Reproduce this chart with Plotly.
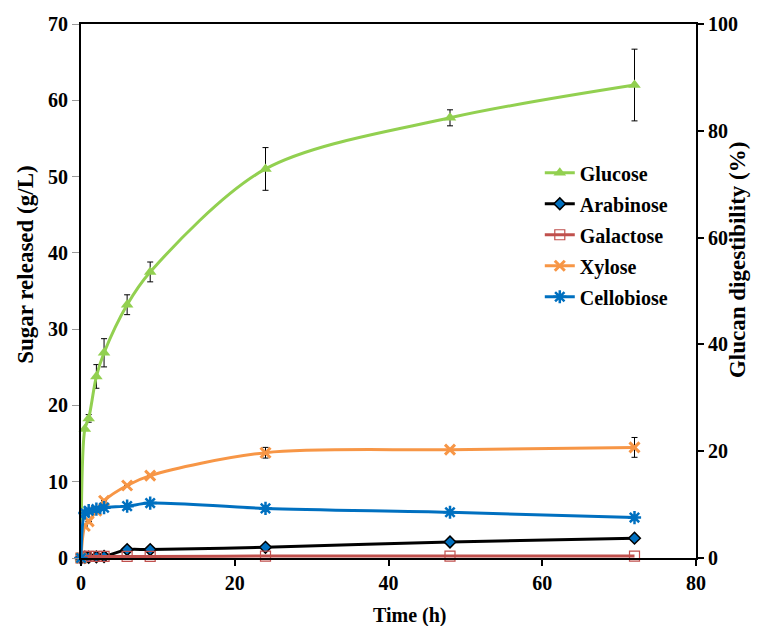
import plotly.graph_objects as go

time_h = [0, 0.5, 1, 2, 3, 6, 9, 24, 48, 72]
glucose = [0, 16.9, 18.3, 23.8, 26.9, 33.2, 37.5, 51.0, 57.7, 62.0]
glucose_err = [0, 0, 0.5, 1.55, 1.85, 1.3, 1.3, 2.8, 1.05, 4.7]
arabinose = [0, 0.1, 0.1, 0.15, 0.2, 1.1, 1.1, 1.4, 2.1, 2.6]
galactose = [0, 0.2, 0.2, 0.2, 0.2, 0.2, 0.2, 0.25, 0.25, 0.25]
xylose = [0, 4.2, 4.8, 6.2, 7.5, 9.5, 10.8, 13.8, 14.2, 14.5]
xylose_err = [0, 0, 0, 0, 0, 0, 0, 0.7, 0, 1.3]
cellobiose = [0, 5.9, 6.2, 6.4, 6.6, 6.8, 7.2, 6.5, 6.0, 5.3]

FONT = "Liberation Serif, Times New Roman, serif"

fig = go.Figure()

def add(name, y, color, symbol, msize, mcolor, mline_color, mline_w, err=None, lw=3):
    kw = {}
    if err is not None:
        kw["error_y"] = dict(type="data", array=err, visible=True, color="black", thickness=1, width=3)
    fig.add_trace(go.Scatter(
        x=time_h, y=y, name=name, mode="lines+markers",
        line=dict(color=color, width=lw, shape="spline", smoothing=0.9),
        marker=dict(symbol=symbol, size=msize, color=mcolor,
                    line=dict(color=mline_color, width=mline_w)),
        cliponaxis=False, legendgroup=name, **kw))

add("Glucose", glucose, "#92D050", "triangle-up", 11, "#92D050", "#92D050", 0, err=glucose_err)
add("Arabinose", arabinose, "#000000", "diamond", 9, "#0070C0", "#000000", 1.5)
add("Galactose", galactose, "#C0504D", "square-open", 10, "#C0504D", "#C0504D", 1.2)
add("Xylose", xylose, "#F79646", "x-thin-open", 10, "#F79646", "#F79646", 3, err=xylose_err)
add("Cellobiose", cellobiose, "#0070C0", "asterisk-open", 11, "#0070C0", "#0070C0", 2.5)

# invisible trace to carry right axis
fig.add_trace(go.Scatter(x=[None], y=[None], yaxis="y2", showlegend=False, hoverinfo="skip"))

tickfont = dict(family=FONT, size=20, color="black", weight="bold")
titlefont = dict(family=FONT, size=23, color="black", weight="bold")

# page body has an 8px margin, so the figure is sized/offset to compensate
fig.update_layout(
    width=758, height=618,
    margin=dict(l=73, r=70, t=16, b=68, autoexpand=False),
    paper_bgcolor="white", plot_bgcolor="white",
    showlegend=True,
    legend=dict(x=0.746, y=0.758, xanchor="left", yanchor="top",
                font=dict(family=FONT, size=20, color="black", weight="bold"),
                bgcolor="rgba(0,0,0,0)", tracegroupgap=2, itemwidth=30),
    xaxis=dict(range=[0, 80], tickvals=[0, 20, 40, 60, 80], showgrid=False, zeroline=False,
               showline=True, linecolor="black", linewidth=2, mirror=True, automargin=False,
               ticks="outside", ticklen=6, tickcolor="black", tickwidth=2,
               tickfont=tickfont),
    yaxis=dict(range=[0, 70], tickvals=[0, 10, 20, 30, 40, 50, 60, 70], showgrid=False,
               zeroline=False, showline=True, linecolor="black", linewidth=2, automargin=False,
               ticks="outside", ticklen=7, tickcolor="#999999", tickwidth=1,
               tickfont=tickfont),
    yaxis2=dict(range=[0, 100], tickvals=[0, 20, 40, 60, 80, 100], overlaying="y", side="right",
                showgrid=False, zeroline=False, showline=True, linecolor="black", linewidth=2,
                automargin=False,
                ticks="outside", ticklen=6, tickcolor="black", tickwidth=2,
                tickfont=tickfont),
    annotations=[
        dict(text="Time (h)", xref="paper", yref="paper", x=0.535, y=0.0, yshift=-57,
             showarrow=False, xanchor="center", yanchor="middle",
             font=dict(family=FONT, size=20, color="black", weight="bold")),
        dict(text="Sugar released (g/L)", xref="paper", yref="paper", x=0, xshift=-55,
             y=0.549, showarrow=False, textangle=-90, xanchor="center", yanchor="middle",
             font=titlefont),
        dict(text="Glucan digestibility (%)", xref="paper", yref="paper", x=1, xshift=41,
             y=0.558, showarrow=False, textangle=-90, xanchor="center", yanchor="middle",
             font=titlefont),
    ],
)

fig.write_html("out.html")
